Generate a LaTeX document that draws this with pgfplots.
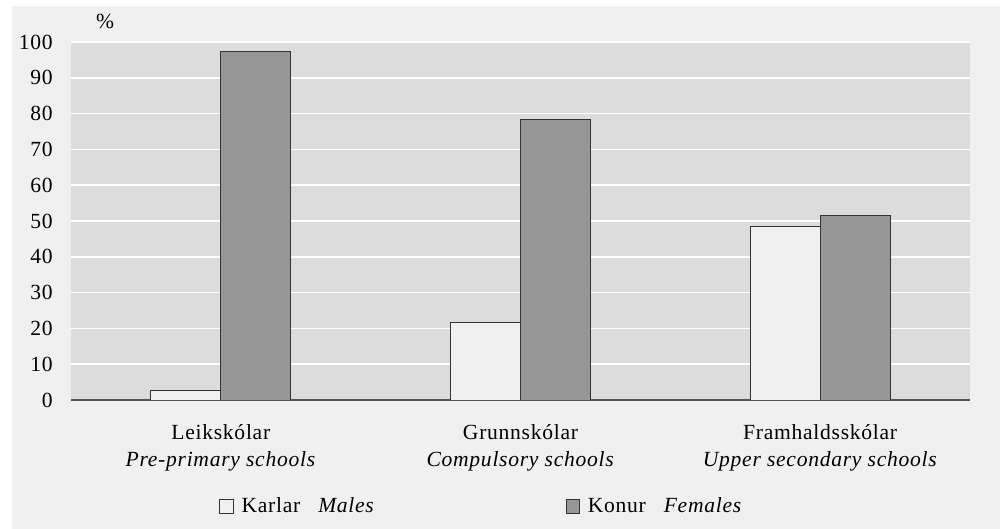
\documentclass[border=0pt]{standalone}
\usepackage{pgfplots}
\pgfplotsset{compat=1.18}
\usepackage{fontspec}
\setmainfont{Liberation Serif}[LetterSpace=3.3]
\definecolor{outerbg}{HTML}{F0F0F0}
\definecolor{plotbg}{HTML}{DCDCDC}
\definecolor{femcol}{HTML}{969696}
\definecolor{malecol}{HTML}{F0F0F0}
\definecolor{edgecol}{HTML}{333333}
\definecolor{axcol}{HTML}{555555}
\begin{document}
\begin{tikzpicture}
\fill[white] (0,0) rectangle (500bp,264.5bp);
\fill[outerbg] (6bp,0) rectangle (500bp,261.5bp);
\begin{axis}[
  at={(35.5bp,64.5bp)}, anchor=south west,
  scale only axis, width=449.5bp, height=179bp,
  xmin=-0.5, xmax=2.5, ymin=0, ymax=100,
  ybar=0pt, bar width=35bp,
  xtick={0,1,2},
  xticklabels={{Leikskólar\\\textit{Pre-primary schools}},{Grunnskólar\\\textit{Compulsory schools}},{Framhaldsskólar\\\textit{Upper secondary schools}}},
  ytick={0,10,...,100},
  major tick length=0pt,
  axis background/.style={fill=plotbg},
  ymajorgrids, grid style={white, line width=0.8bp},
  axis x line*=bottom, axis y line*=left,
  y axis line style={draw=none},
  x axis line style={draw=axcol, line width=0.8bp, -},
  /pgf/number format/assume math mode=true,
  tick label style={font=\fontsize{10.8bp}{13.75bp}\selectfont, inner sep=0pt},
  yticklabel style={anchor=east, xshift=-9bp},
  xticklabel style={align=center, anchor=north, yshift=-12bp},
  title={\%},
  every axis title/.style={font=\fontsize{10.8bp}{13bp}\selectfont, at={(axis description cs:0.038,1.056)}, anchor=center, inner sep=0pt},
  legend columns=2,
  legend style={at={(axis description cs:0.1646,-0.298)}, anchor=west, draw=none, fill=none, inner sep=0pt,
    font=\fontsize{10.8bp}{13bp}\selectfont,
    /tikz/every even column/.append style={column sep=93.5bp},
    /tikz/every odd column/.append style={column sep=2bp}},
  legend cell align=left,
]
\addplot[fill=malecol, draw=edgecol, line width=0.5bp,
  legend image code/.code={\draw[fill=malecol, draw=edgecol, line width=0.5bp] (0bp,-3.2bp) rectangle (6.6bp,3.4bp);}]
  coordinates {(0,2.7) (1,21.6) (2,48.6)};
\addlegendentry{Karlar\hspace{9bp}\textit{Males}}
\addplot[fill=femcol, draw=edgecol, line width=0.5bp,
  legend image code/.code={\draw[fill=femcol, draw=edgecol, line width=0.5bp] (0bp,-3.2bp) rectangle (6.6bp,3.4bp);}]
  coordinates {(0,97.3) (1,78.4) (2,51.4)};
\addlegendentry{Konur\hspace{9bp}\textit{Females}}
\end{axis}
\end{tikzpicture}
\end{document}
